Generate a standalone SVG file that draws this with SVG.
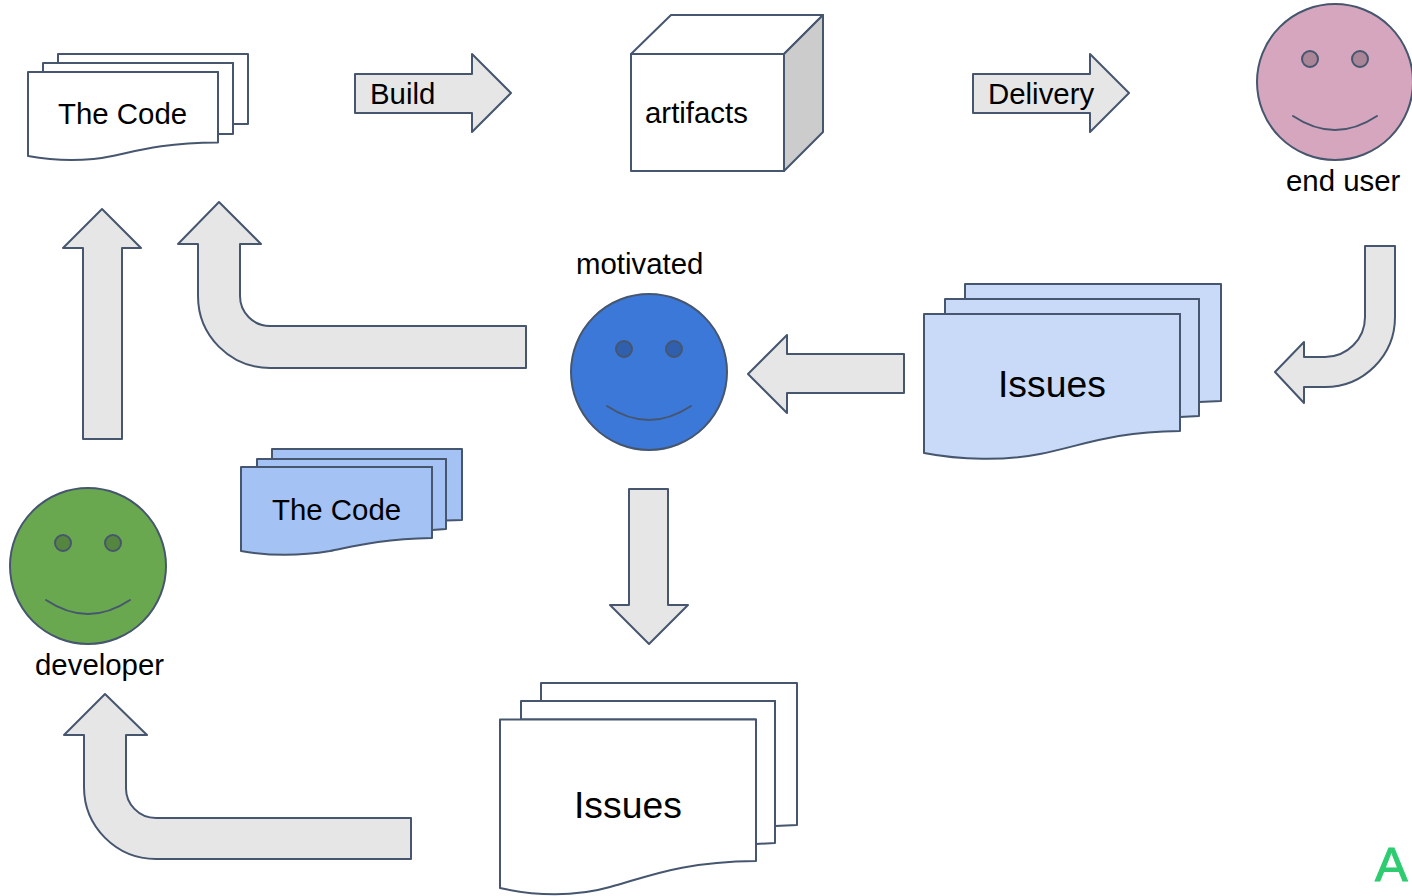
<svg xmlns="http://www.w3.org/2000/svg" width="1412" height="896" viewBox="0 0 1412 896">
<style>
text{font-family:"Liberation Sans",Arial,sans-serif;fill:#000}
.s{stroke:#46566f;stroke-width:2;stroke-linejoin:round;fill:#fff}
.a{stroke:#46566f;stroke-width:2;stroke-linejoin:round;fill:#e6e6e6}
.m{fill:none;stroke:#46566f;stroke-width:2;stroke-linecap:round}
.t{font-size:29.400px}
.b{font-size:37.300px}
.sb{fill:#c9daf8}
.cb{fill:#a4c2f4}
</style>
<rect width="1412" height="896" fill="#fff"/>
<g id="connectors">
<path class="a" d="M355 74H472V54L511 93L472 132V113H355Z"/>
<path class="a" d="M973 74H1090V54L1129 93L1090 132V113H973Z"/>
<path class="a" d="M83 439V248H63L102 209L141 248H122V439Z"/>
<path class="a" d="M526 368H270A72 72 0 0 1 198 296V244H178L219 202L261 244H240V296A30 30 0 0 0 270 326H526Z"/>
<path class="a" d="M904 354H787V335L748 374L787 413V393H904Z"/>
<path class="a" d="M629 489H668V605H688L649 644L610 605H629Z"/>
<path class="a" d="M411 859H156A72 72 0 0 1 84 787V735H64L105 694L147 735H126V787A30 30 0 0 0 156 818H411Z"/>
<path class="a" d="M1395 246V317A70 70 0 0 1 1325 387H1304V403L1275 372L1304 342V357H1325A40 40 0 0 0 1365 317V246Z"/>
<text class="t" x="370" y="104">Build</text>
<text class="t" x="988" y="104">Delivery</text>
</g>
<g id="code-white">
<path class="s" d="M58 54H248V124H233V63H58Z"/>
<path class="s" d="M43 63H233V134H218V72H43Z"/>
<path class="s" d="M28 72H218V142.500C165 143 140 150 115 155.500C85 162 55 161 28 156Z"/>
<text class="t" x="58" y="124">The Code</text>
</g>
<g id="artifacts">
<path class="s" d="M631 54H784V171H631Z"/>
<path class="s" d="M631 54L671 15H823L784 54Z"/>
<path class="s" style="fill:#ccc" d="M784 54L823 15V132L784 171Z"/>
<text class="t" x="645" y="123">artifacts</text>
</g>
<g id="end-user">
<circle class="s" style="fill:#d5a6bd" cx="1335" cy="82" r="78"/>
<circle class="s" style="fill:#aa8597" cx="1310" cy="59" r="8"/>
<circle class="s" style="fill:#aa8597" cx="1360" cy="59" r="8"/>
<path class="m" d="M1293 116Q1335 144 1377 116"/>
<text class="t" x="1286" y="191">end user</text>
</g>
<g id="motivated">
<circle class="s" style="fill:#3c78d8" cx="649" cy="372" r="78"/>
<circle class="s" style="fill:#3060ad" cx="624" cy="349" r="8"/>
<circle class="s" style="fill:#3060ad" cx="674" cy="349" r="8"/>
<path class="m" d="M607 406Q649 434 691 406"/>
<text class="t" x="576" y="274">motivated</text>
</g>
<g id="developer">
<circle class="s" style="fill:#6aa84f" cx="88" cy="566" r="78"/>
<circle class="s" style="fill:#55863f" cx="63" cy="543" r="8"/>
<circle class="s" style="fill:#55863f" cx="113" cy="543" r="8"/>
<path class="m" d="M46 600Q88 628 130 600"/>
<text class="t" x="35" y="675">developer</text>
</g>
<g id="issues-blue">
<path class="s sb" d="M965 284H1221V401L1199 402V299H965Z"/>
<path class="s sb" d="M945 299H1199V416L1180 417V314H945Z"/>
<path class="s sb" d="M924 314H1180V431C1110 432 1085 445 1040 454C1005 461 960 460 924 453Z"/>
<text class="b" x="998" y="397">Issues</text>
</g>
<g id="code-blue">
<path class="s cb" d="M272 449H462V520L446 520.500V459H272Z"/>
<path class="s cb" d="M257 459H446V529L432 530V467H257Z"/>
<path class="s cb" d="M241 467H432V538C380 539 355 546 330 551C300 556 270 556 241 551Z"/>
<text class="t" x="272" y="520">The Code</text>
</g>
<g id="issues-white">
<path class="s" d="M541 683H797V825L775 826V701H541Z"/>
<path class="s" d="M521 701H775V843L756 844V719.500H521Z"/>
<path class="s" d="M500 719.500H756V861C680 862 650 876 610 887C575 897 535 896 500 888Z"/>
<text class="b" x="574" y="818">Issues</text>
</g>
<g id="corner-mark">
<text x="1375" y="881" style="font-size:49px;fill:#2ecc71;stroke:#2ecc71;stroke-width:1">A</text>
</g>
</svg>
